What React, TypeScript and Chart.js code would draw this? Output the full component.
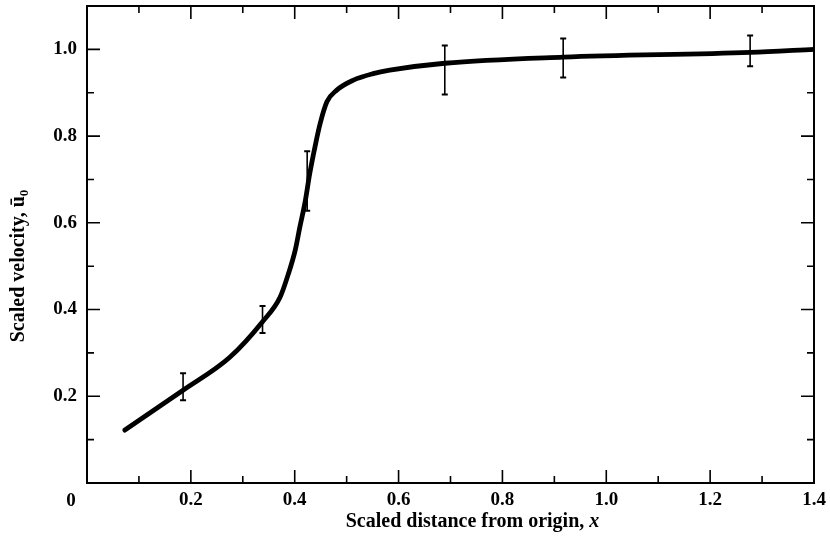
import React, { useEffect, useRef } from 'react';
import { Chart, registerables } from 'chart.js';

Chart.register(...registerables);

// Fitted curve (scaled distance x, scaled velocity)
const curveX = [0.073, 0.185, 0.275, 0.338, 0.372, 0.388, 0.401, 0.410, 0.420, 0.429, 0.439, 0.449, 0.462, 0.481, 0.513, 0.551, 0.583, 0.689, 0.917, 1.277, 1.400];
const curveY = [0.122, 0.214, 0.29, 0.372, 0.429, 0.483, 0.537, 0.591, 0.648, 0.714, 0.775, 0.829, 0.879, 0.906, 0.929, 0.944, 0.952, 0.968, 0.982, 0.993, 1.0];

// Measured points with error bars
const errX = [0.185, 0.338, 0.424, 0.689, 0.917, 1.277];
const errLow = [0.191, 0.346, 0.628, 0.896, 0.935, 0.961];
const errHigh = [0.253, 0.408, 0.765, 1.009, 1.025, 1.032];

const xTickValues = [0, 0.2, 0.4, 0.6, 0.8, 1.0, 1.2, 1.4];
const yTickValues = [0.2, 0.4, 0.6, 0.8, 1.0];
const xMin = 0, xMax = 1.4, yMin = 0, yMax = 1.1;
const minorStep = 0.1;

const xTitle = 'Scaled distance from origin, ';
const xTitleVar = 'x';
const yTitle = 'Scaled velocity, ū';
const yTitleSub = '0';
const originLabel = '0';

const FONT = "'Liberation Serif', 'Times New Roman', serif";

const framePlugin = {
  id: 'frameTicks',
  afterDatasetsDraw(chart: any) {
    const { ctx, scales } = chart;
    const x = scales.x, y = scales.y;
    ctx.save();
    ctx.strokeStyle = '#000';
    for (let i = 0; i < errX.length; i++) {
      const px = x.getPixelForValue(errX[i]);
      const pLo = y.getPixelForValue(errLow[i]);
      const pHi = y.getPixelForValue(errHigh[i]);
      ctx.lineWidth = 1.6;
      ctx.beginPath();
      ctx.moveTo(px, pLo);
      ctx.lineTo(px, pHi);
      ctx.stroke();
      ctx.lineWidth = 2;
      ctx.beginPath();
      ctx.moveTo(px - 3, pLo);
      ctx.lineTo(px + 3, pLo);
      ctx.moveTo(px - 3, pHi);
      ctx.lineTo(px + 3, pHi);
      ctx.stroke();
    }
    ctx.restore();
  },
  afterDraw(chart: any) {
    const { ctx, chartArea: a, scales } = chart;
    const x = scales.x, y = scales.y;
    ctx.save();
    ctx.strokeStyle = '#000';
    ctx.lineWidth = 2;
    ctx.strokeRect(a.left, a.top, a.right - a.left, a.bottom - a.top);
    ctx.lineWidth = 1.6;
    ctx.beginPath();
    const nx = Math.round((xMax - xMin) / minorStep);
    for (let i = 1; i < nx; i++) {
      const v = xMin + i * minorStep;
      const px = x.getPixelForValue(v);
      const len = i % 2 === 0 ? 13 : 7;
      ctx.moveTo(px, a.bottom);
      ctx.lineTo(px, a.bottom - len);
      ctx.moveTo(px, a.top);
      ctx.lineTo(px, a.top + len);
    }
    const ny = Math.round((yMax - yMin) / minorStep);
    for (let i = 1; i < ny; i++) {
      const v = yMin + i * minorStep;
      const py = y.getPixelForValue(v);
      const len = i % 2 === 0 ? 13 : 7;
      ctx.moveTo(a.left, py);
      ctx.lineTo(a.left + len, py);
      ctx.moveTo(a.right, py);
      ctx.lineTo(a.right - len, py);
    }
    ctx.stroke();

    ctx.fillStyle = '#000';
    // origin label
    ctx.font = `bold 19px ${FONT}`;
    ctx.textAlign = 'center';
    ctx.textBaseline = 'alphabetic';
    ctx.fillText(originLabel, x.getPixelForValue(0) - 16, a.bottom + 23);

    // x title
    ctx.font = `bold 20px ${FONT}`;
    const w1 = ctx.measureText(xTitle).width;
    ctx.font = `italic bold 20px ${FONT}`;
    const w2 = ctx.measureText(xTitleVar).width;
    const cx = (a.left + a.right) / 2 + 22;
    const startX = cx - (w1 + w2) / 2;
    ctx.textAlign = 'left';
    ctx.font = `bold 20px ${FONT}`;
    ctx.fillText(xTitle, startX, a.bottom + 44);
    ctx.font = `italic bold 20px ${FONT}`;
    ctx.fillText(xTitleVar, startX + w1, a.bottom + 44);

    // y title
    ctx.save();
    ctx.translate(24, 266);
    ctx.rotate(-Math.PI / 2);
    ctx.font = `bold 20px ${FONT}`;
    const t1 = ctx.measureText(yTitle).width;
    ctx.font = `bold 13px ${FONT}`;
    const t2 = ctx.measureText(yTitleSub).width;
    const sx = -(t1 + t2) / 2;
    ctx.font = `bold 20px ${FONT}`;
    ctx.fillText(yTitle, sx, 0);
    ctx.font = `bold 13px ${FONT}`;
    ctx.fillText(yTitleSub, sx + t1, 4);
    ctx.restore();

    ctx.restore();
  },
};

export default function App() {
  const ref = useRef<HTMLCanvasElement | null>(null);

  useEffect(() => {
    document.body.style.margin = '0';
    const canvas = ref.current;
    if (!canvas) return;
    const chart = new Chart(canvas, {
      type: 'scatter',
      data: {
        datasets: [
          {
            data: curveX.map((v, i) => ({ x: v, y: curveY[i] })),
            showLine: true,
            borderColor: '#000',
            backgroundColor: '#000',
            borderWidth: 4.8,
            pointRadius: 0,
            pointHoverRadius: 0,
            cubicInterpolationMode: 'monotone',
            borderCapStyle: 'round',
            borderJoinStyle: 'round',
          } as any,
        ],
      },
      options: {
        responsive: false,
        animation: false,
        devicePixelRatio: 1,
        layout: { padding: { top: 6, right: 16, left: 0, bottom: 0 } },
        plugins: {
          legend: { display: false },
          tooltip: { enabled: false },
        },
        scales: {
          x: {
            type: 'linear',
            position: 'bottom',
            min: xMin,
            max: xMax,
            grid: { display: false, drawTicks: false },
            border: { display: false },
            afterBuildTicks: (s: any) => {
              s.ticks = xTickValues.map((v) => ({ value: v }));
            },
            afterFit: (s: any) => {
              s.height = 62;
              s.paddingLeft = 0;
              s.paddingRight = 0;
            },
            ticks: {
              autoSkip: false,
              maxRotation: 0,
              padding: 6,
              color: '#000',
              font: { family: FONT, size: 19, weight: 'bold' },
              callback: (v: any) => (Number(v) === 0 ? '' : Number(v).toFixed(1)),
            },
          },
          y: {
            type: 'linear',
            min: yMin,
            max: yMax,
            grid: { display: false, drawTicks: false },
            border: { display: false },
            afterBuildTicks: (s: any) => {
              s.ticks = yTickValues.map((v) => ({ value: v }));
            },
            afterFit: (s: any) => {
              s.width = 87;
              s.paddingTop = 0;
              s.paddingBottom = 0;
            },
            ticks: {
              autoSkip: false,
              padding: 10,
              color: '#000',
              font: { family: FONT, size: 19, weight: 'bold' },
              callback: (v: any) => Number(v).toFixed(1),
            },
          },
        },
      } as any,
      plugins: [framePlugin],
    });
    return () => chart.destroy();
  }, []);

  return (
    <div style={{ width: 830, height: 545, background: '#fff' }}>
      <canvas ref={ref} width={830} height={545} style={{ display: 'block' }} />
    </div>
  );
}
